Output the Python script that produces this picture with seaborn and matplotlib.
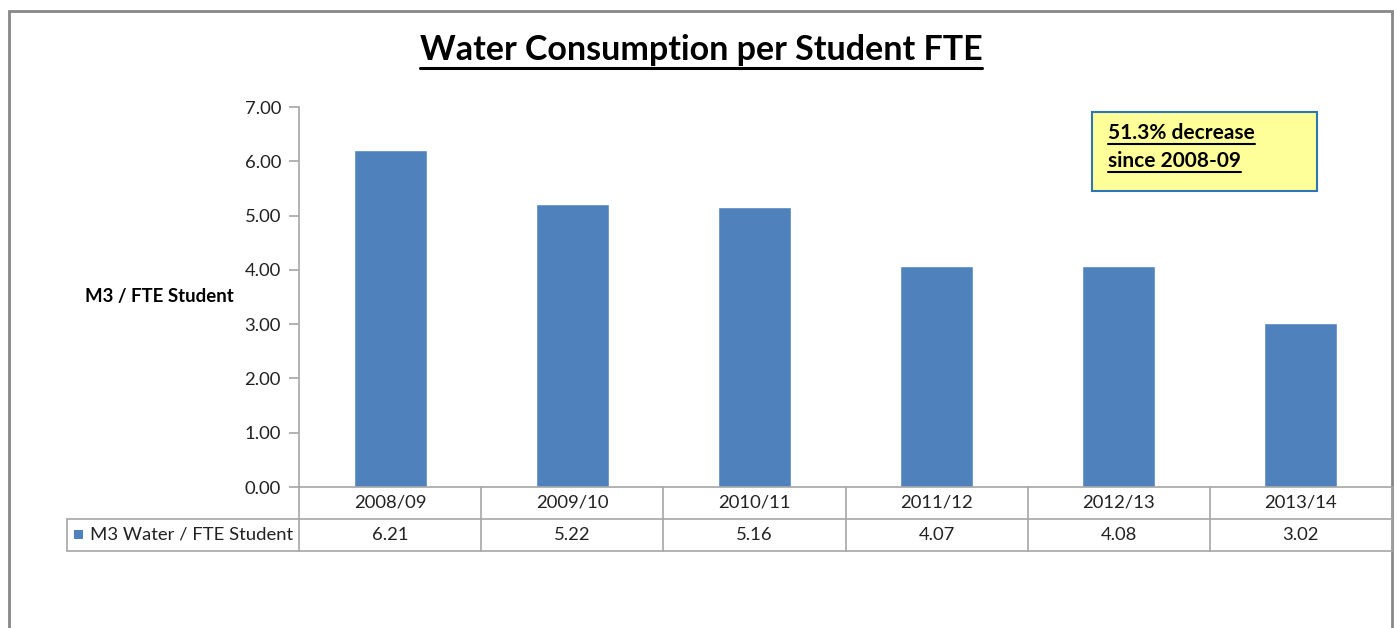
import seaborn as sns
import matplotlib.pyplot as plt
import matplotlib.lines as mlines
import matplotlib.patches as mpatches
import pandas as pd

# --- data ---------------------------------------------
years = ["2008/09", "2009/10", "2010/11", "2011/12", "2012/13", "2013/14"]
water_per_fte = [6.21, 5.22, 5.16, 4.07, 4.08, 3.02]
series_name = "M3 Water / FTE Student"
y_ticks = [0, 1, 2, 3, 4, 5, 6, 7]
note_text = "51.3% decrease\nsince 2008-09"

# --- style ---------------------------------------------
W, H = 1397, 628
BAR_COLOR = "#4F81BD"
GRID_GRAY = "#A6A6A6"
TXT = "#222222"
FONT = ["Lato", "DejaVu Sans"]
SMALL = 13.3

sns.set_style("white")
plt.rcParams["font.family"] = FONT


def fx(px):
    return px / W


def fy(py):
    return 1 - py / H


df = pd.DataFrame({"year": years, "value": water_per_fte})

fig = plt.figure(figsize=(W / 100, H / 100), dpi=100)
x0, x1, ytop, ybot = 299, 1392, 107, 487
ax = fig.add_axes([fx(x0), fy(ybot), fx(x1 - x0), fy(ytop) - fy(ybot)])

sns.barplot(data=df, x="year", y="value", color=BAR_COLOR, width=0.4,
            saturation=1, ax=ax)
ax.set_ylim(0, 7)
ax.set_xlim(-0.5, len(years) - 0.5)
ax.set_yticks(y_ticks)
ax.set_yticklabels([f"{t:.2f}" for t in y_ticks], fontsize=SMALL, color=TXT)
ax.set_xticks([])
ax.set_xlabel("")
ax.set_ylabel("")
for s in ["top", "right", "bottom"]:
    ax.spines[s].set_visible(False)
ax.spines["left"].set_color(GRID_GRAY)
ax.spines["left"].set_linewidth(1.2)
ax.tick_params(axis="y", left=True, length=7, width=1.2, color=GRID_GRAY, pad=6)

# --- data table under the plot ------------------------
row1, row2, row3 = 487, 519, 551
legend_left = 67
cell_w = (x1 - x0) / len(years)


def hline(xa, xb, y):
    fig.add_artist(mlines.Line2D([fx(xa), fx(xb)], [fy(y), fy(y)], color=GRID_GRAY, lw=1.2))


def vline(x, ya, yb):
    fig.add_artist(mlines.Line2D([fx(x), fx(x)], [fy(ya), fy(yb)], color=GRID_GRAY, lw=1.2))


hline(x0, x1, row1)
hline(legend_left, x1, row2)
hline(legend_left, x1, row3)
vline(legend_left, row2, row3)
for i in range(len(years) + 1):
    vline(x0 + i * cell_w, row1, row3)

for i, (yr, v) in enumerate(zip(years, water_per_fte)):
    cx = x0 + (i + 0.5) * cell_w
    fig.text(fx(cx), fy((row1 + row2) / 2), yr, ha="center", va="center",
             fontsize=SMALL, color=TXT)
    fig.text(fx(cx), fy((row2 + row3) / 2), f"{v:.2f}", ha="center", va="center",
             fontsize=SMALL, color=TXT)

fig.add_artist(mpatches.Rectangle((fx(74), fy(539)), fx(9), fy(530) - fy(539),
                                  color=BAR_COLOR, lw=0))
fig.text(fx(90), fy((row2 + row3) / 2), series_name, ha="left", va="center",
         fontsize=SMALL, color=TXT)

# --- titles / labels ----------------------------------
title = fig.text(fx(701), fy(50), "Water Consumption per Student FTE", ha="center",
                 va="center", fontsize=24.5, fontweight="bold", color="black")
fig.canvas.draw()
bb = title.get_window_extent()
fig.add_artist(mlines.Line2D([bb.x0 / W, bb.x1 / W], [fy(68), fy(68)],
                             color="black", lw=2.2))

fig.text(fx(85), fy(297), "M3 / FTE Student", ha="left", va="center",
         fontsize=13.4, fontweight="bold", color="black")

# --- note box ------------------------------------------
fig.add_artist(mpatches.Rectangle((fx(1092), fy(191)), fx(1317 - 1092), fy(112) - fy(191),
                                  facecolor="#FFFF99", edgecolor="#2E75B6", lw=1.5))
for j, line in enumerate(note_text.split("\n")):
    t = fig.text(fx(1108), fy(133 + j * 28), line, ha="left", va="center",
                 fontsize=15, fontweight="bold", color="black")
    fig.canvas.draw()
    b = t.get_window_extent()
    fig.add_artist(mlines.Line2D([b.x0 / W, b.x1 / W], [fy(144 + j * 28)] * 2,
                                 color="black", lw=1.5))

# outer chart border
fig.add_artist(mpatches.Rectangle((fx(9), fy(640)), fx(1392 - 9), fy(11) - fy(640),
                                  facecolor="none", edgecolor="#888888", lw=2))

fig.savefig("out.png", dpi=100)
